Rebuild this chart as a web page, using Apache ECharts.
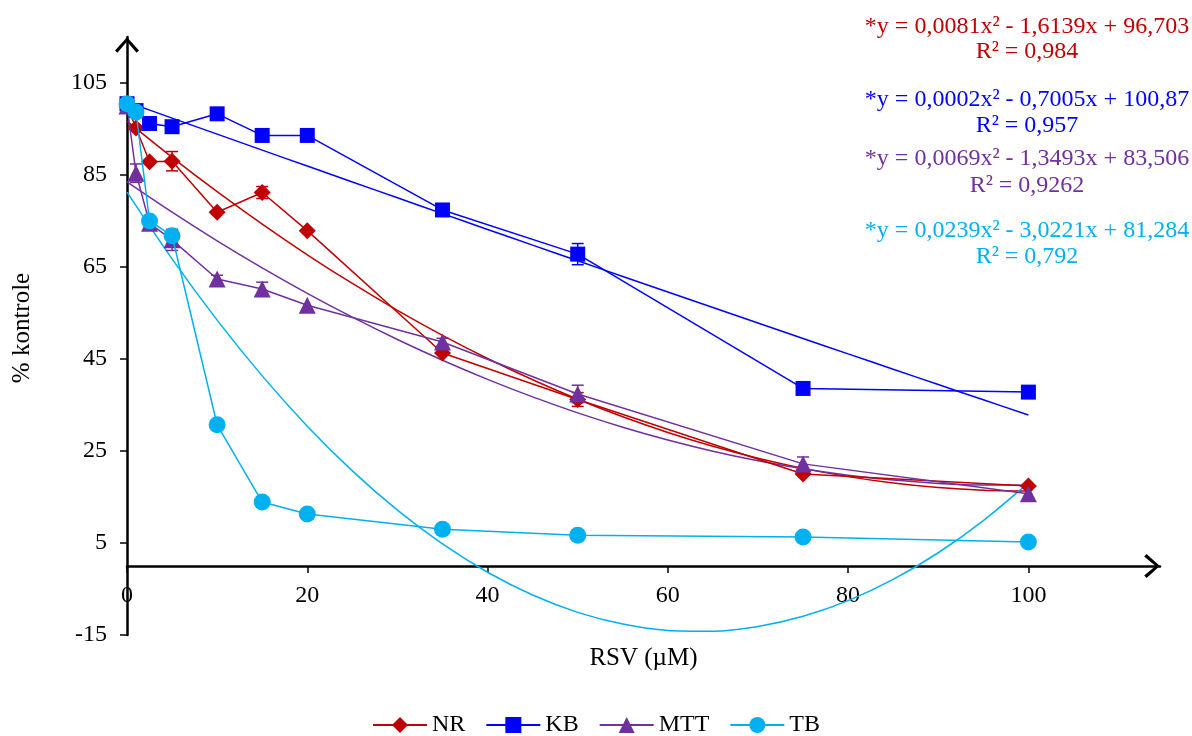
<!DOCTYPE html>
<html><head><meta charset="utf-8">
<script src="https://cdn.jsdelivr.net/npm/echarts@6/dist/echarts.min.js"></script>
<style>html,body{margin:0;padding:0;background:#fff}#c{width:1192px;height:736px}</style>
</head><body><div id="c"></div>
<script>
// ---- data ----
const concentrations = [0, 1, 2.5, 5, 10, 15, 20, 35, 50, 75, 100];
const nrValues  = [100, 95.2, 87.9, 88.0, 76.9, 81.2, 72.9, 46.3, 36.2, 20.0, 17.4];
const kbValues  = [100.5, 99.0, 96.2, 95.5, 98.3, 93.6, 93.6, 77.4, 67.8, 38.6, 37.8];
const mttValues = [100, 85.4, 74.5, 70.9, 62.4, 60.2, 56.7, 48.7, 37.4, 22.2, 15.7];
const tbValues  = [100.5, 98.7, 75.0, 71.8, 30.7, 13.9, 11.3, 8.0, 6.7, 6.3, 5.2];
const nrErr  = [0, 0, 0, 2.1, 0, 1.3, 0, 0, 1.5, 0, 0];
const kbErr  = [0, 0, 0, 0, 0, 0, 0, 0, 2.3, 0, 0];
const mttErr = [0, 2.0, 1.0, 2.3, 0.8, 1.5, 0, 0.8, 1.9, 1.5, 0];
const tbErr  = [0, 0, 0, 0, 0, 0, 0, 0, 0, 0, 0];
// trendlines (polynomial fits as shown on the chart)
const trendX   = [0, 5, 10, 15, 20, 25, 30, 35, 40, 45, 50, 55, 60, 65, 70, 75, 80, 85, 90, 95, 100];
const nrTrend  = [96.70, 88.84, 81.37, 74.32, 67.66, 61.42, 55.57, 50.14, 45.10, 40.48, 36.25, 32.44, 29.03, 26.02, 23.42, 21.22, 19.43, 18.04, 17.06, 16.49, 16.31];
const kbTrend  = [100.87, 97.37, 93.89, 90.41, 86.94, 83.48, 80.04, 76.60, 73.17, 69.75, 66.35, 62.95, 59.56, 56.18, 52.81, 49.46, 46.11, 42.77, 39.45, 36.13, 32.82];
const mttTrend = [83.51, 76.93, 70.70, 64.82, 59.28, 54.09, 49.24, 44.73, 40.58, 36.76, 33.29, 30.17, 27.39, 24.95, 22.87, 21.12, 19.73, 18.67, 17.96, 17.59, 17.58];
const tbTrend  = [81.28, 66.77, 53.45, 41.33, 30.40, 20.67, 12.13, 4.79, -1.36, -6.31, -10.08, -12.63, -14.01, -14.18, -13.16, -10.94, -7.53, -2.92, 2.88, 9.88, 18.07];
const seriesNames = ['NR', 'KB', 'MTT', 'TB'];
const xTicks = [0, 20, 40, 60, 80, 100];
const yTicks = [-15, 5, 25, 45, 65, 85, 105];
const equations = [
  '*y = 0,0081x\u00b2 - 1,6139x + 96,703', 'R\u00b2 = 0,984',
  '*y = 0,0002x\u00b2 - 0,7005x + 100,87', 'R\u00b2 = 0,957',
  '*y = 0,0069x\u00b2 - 1,3493x + 83,506', 'R\u00b2 = 0,9262',
  '*y = 0,0239x\u00b2 - 3,0221x + 81,284', 'R\u00b2 = 0,792'
];
const xName = 'RSV (\u00b5M)';
const yName = '% kontrole';

// ---- styling ----
const FONT = '"Liberation Serif", "Times New Roman", serif';
const colors = ['#C00000', '#0000FF', '#7030A0', '#00B0F0'];
const symbols = ['diamond', 'rect', 'triangle', 'circle'];
const symbolSizes = [17, 15, 17, 17];
const values = [nrValues, kbValues, mttValues, tbValues];
const errs = [nrErr, kbErr, mttErr, tbErr];
const trends = [nrTrend, kbTrend, mttTrend, tbTrend];
const eqY = [27, 52, 100, 126, 159, 186, 231, 257];
const arrow = 'path://M10,0 L20,11 L18,13 L10,3.5 L2,13 L0,11 Z';

const series = [];
seriesNames.forEach((n, i) => {
  series.push({
    type: 'line', name: n + ' trend', silent: true, showSymbol: false, smooth: 0.3,
    data: trendX.map((x, k) => [x, trends[i][k]]),
    lineStyle: { color: colors[i], width: 1.5 }, z: 2
  });
});
seriesNames.forEach((n, i) => {
  const c = colors[i];
  const ed = concentrations.map((x, k) => [x, values[i][k] - errs[i][k], values[i][k] + errs[i][k], errs[i][k]])
    .filter(d => d[3] > 0);
  series.push({
    type: 'custom', name: n + ' err', silent: true, z: 3,
    data: ed,
    encode: { x: 0, y: [1, 2] },
    renderItem: function (params, api) {
      const x = api.value(0);
      const lo = api.coord([x, api.value(1)]);
      const hi = api.coord([x, api.value(2)]);
      const w = 6;
      const st = { stroke: c, lineWidth: 1.5 };
      return { type: 'group', children: [
        { type: 'line', shape: { x1: lo[0], y1: lo[1], x2: hi[0], y2: hi[1] }, style: st },
        { type: 'line', shape: { x1: lo[0] - w, y1: lo[1], x2: lo[0] + w, y2: lo[1] }, style: st },
        { type: 'line', shape: { x1: hi[0] - w, y1: hi[1], x2: hi[0] + w, y2: hi[1] }, style: st }
      ]};
    }
  });
});
seriesNames.forEach((n, i) => {
  series.push({
    type: 'line', name: n,
    data: concentrations.map((x, k) => [x, values[i][k]]),
    symbol: symbols[i], symbolSize: symbolSizes[i], showAllSymbol: true,
    lineStyle: { color: colors[i], width: 1.5 },
    itemStyle: { color: colors[i] }, z: 4 + i
  });
});

const chart = echarts.init(document.getElementById('c'), null, { renderer: 'canvas' });
chart.setOption({
  animation: false,
  backgroundColor: '#fff',
  textStyle: { fontFamily: FONT },
  grid: { left: 127, right: 32, top: 37, bottom: 101, containLabel: false, outerBoundsMode: 'none' },
  xAxis: {
    type: 'value', min: 0, max: 114.6,
    name: xName, nameLocation: 'middle', nameGap: 11,
    nameTextStyle: { fontFamily: FONT, fontSize: 25, color: '#000' },
    axisLine: { onZero: true, lineStyle: { color: '#000', width: 2.5 },
      symbol: ['none', arrow], symbolSize: [24, 16], symbolOffset: [0, -8] },
    axisTick: { show: true, length: 7, inside: false, customValues: xTicks, lineStyle: { color: '#000', width: 1.5 } },
    axisLabel: { customValues: xTicks, fontFamily: FONT, fontSize: 24, color: '#000', margin: -51 },
    splitLine: { show: false }
  },
  yAxis: {
    type: 'value', min: -15, max: 115,
    name: yName, nameLocation: 'middle', nameGap: 92, nameRotate: 90,
    nameTextStyle: { fontFamily: FONT, fontSize: 25, color: '#000', padding: [0, 0, 0, 16] },
    axisLine: { onZero: false, lineStyle: { color: '#000', width: 2.5 },
      symbol: ['none', arrow], symbolSize: [24, 16], symbolOffset: [0, -8] },
    axisTick: { show: true, length: 7, customValues: yTicks, lineStyle: { color: '#000', width: 1.5 } },
    axisLabel: { customValues: yTicks, fontFamily: FONT, fontSize: 24, color: '#000', margin: 20 },
    splitLine: { show: false }
  },
  legend: {
    data: seriesNames, top: 708, left: 'center',
    itemWidth: 54, itemHeight: 20, itemGap: 20,
    textStyle: { fontFamily: FONT, fontSize: 24, color: '#000' }
  },
  graphic: equations.map((t, i) => ({
    type: 'text', x: 1027, y: eqY[i], silent: true,
    style: { text: t, fill: colors[Math.floor(i / 2)], font: '24px ' + FONT, textAlign: 'center', textVerticalAlign: 'middle' }
  })),
  series: series
});
</script>
</body></html>
